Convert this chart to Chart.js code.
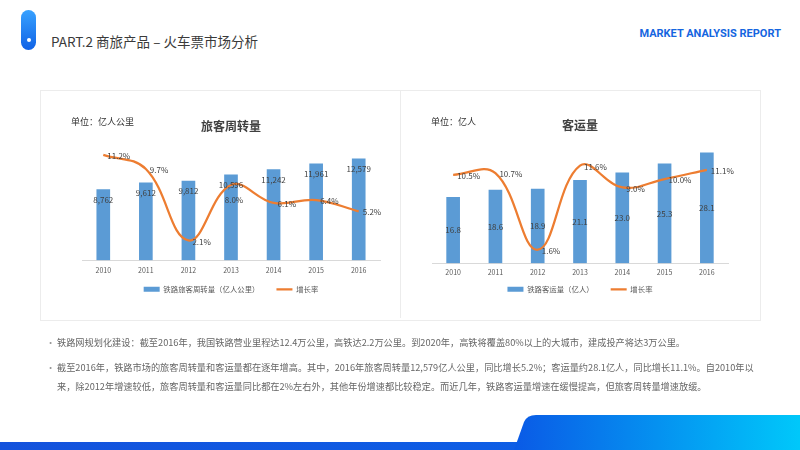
<!DOCTYPE html>
<html lang="zh-CN">
<head>
    <meta charset="UTF-8">
    <title>PART.2 商旅产品 – 火车票市场分析</title>
    <script src="https://cdn.jsdelivr.net/npm/chart.js"></script>
    <style>
        body {
            margin: 0;
            width: 800px;
            height: 450px;
            overflow: hidden;
            background: #ffffff;
            font-family: 'Noto Sans CJK SC', 'Noto Sans', sans-serif;
            position: relative;
        }
        .pill {
            position: absolute;
            left: 21px;
            top: 10px;
            width: 15px;
            height: 40px;
            border-radius: 8px;
            background: linear-gradient(180deg, #38a2ff, #1062e6);
        }
        .pill::after {
            content: '';
            position: absolute;
            left: 6px;
            top: 28px;
            width: 4px;
            height: 4px;
            border-radius: 50%;
            background: #ffffff;
        }
        .heading {
            position: absolute;
            left: 51px;
            top: 31px;
            font-size: 13.5px;
            line-height: 20px;
            color: #3a3a3a;
        }
        .report {
            position: absolute;
            right: 19px;
            top: 27px;
            font-family: 'Liberation Sans Narrow', 'Roboto', sans-serif;
            font-weight: bold;
            font-size: 11px;
            line-height: 14px;
            color: #1565e0;
        }
        .frame {
            position: absolute;
            left: 40px;
            top: 90px;
            width: 719px;
            height: 229px;
            border: 1px solid #ececec;
        }
        .divider {
            position: absolute;
            left: 400px;
            top: 90px;
            width: 1px;
            height: 228px;
            background: #ececec;
        }
        .panel {
            position: absolute;
            top: 90px;
            width: 360px;
            height: 250px;
        }
        .unit {
            position: absolute;
            top: 115px;
            font-size: 9px;
            line-height: 13px;
            color: #333333;
        }
        .notes {
            position: absolute;
            left: 46px;
            top: 333px;
            font-size: 9.2px;
            color: #666666;
        }
        .notes p {
            margin: 0 0 6px 0;
            padding-left: 11px;
            position: relative;
            line-height: 19px;
            white-space: nowrap;
        }
        .notes p::before {
            content: '•';
            position: absolute;
            left: 0;
            color: #999999;
        }
        .strip {
            position: absolute;
            left: 0;
            top: 442px;
            width: 800px;
            height: 8px;
            background: linear-gradient(90deg, #1452dc, #0a64ea);
        }
        .wave {
            position: absolute;
            left: 0;
            top: 0;
        }
    </style>
</head>
<body>
    <div class="pill"></div>
    <div class="heading">PART.2 商旅产品 – 火车票市场分析</div>
    <div class="report">MARKET ANALYSIS REPORT</div>

    <div class="frame"></div>
    <div class="divider"></div>
    <div class="panel" style="left:40px"><canvas id="turnoverChart"></canvas></div>
    <div class="panel" style="left:400px"><canvas id="volumeChart"></canvas></div>
    <div class="unit" style="left:71px">单位：亿人公里</div>
    <div class="unit" style="left:431px">单位：亿人</div>

    <div class="notes">
        <p>铁路网规划化建设：截至2016年，我国铁路营业里程达12.4万公里，高铁达2.2万公里。到2020年，高铁将覆盖80%以上的大城市，建成投产将达3万公里。</p>
        <p>截至2016年，铁路市场的旅客周转量和客运量都在逐年增高。其中，2016年旅客周转量12,579亿人公里，同比增长5.2%；客运量约28.1亿人，同比增长11.1%。自2010年以<br>来，除2012年增速较低，旅客周转量和客运量同比都在2%左右外，其他年份增速都比较稳定。而近几年，铁路客运量增速在缓慢提高，但旅客周转量增速放缓。</p>
    </div>

    <div class="strip"></div>
    <svg class="wave" width="800" height="450">
        <defs>
            <linearGradient id="waveFill" x1="0" x2="1" y1="0" y2="0">
                <stop offset="0" stop-color="#0a5ae6"/>
                <stop offset="1" stop-color="#00c8fa"/>
            </linearGradient>
        </defs>
        <path d="M514 450 L524 422 Q527 415 536 415 L800 415 L800 450 Z" fill="url(#waveFill)"/>
    </svg>

    <script>
        const years = ['2010', '2011', '2012', '2013', '2014', '2015', '2016'];

        // 旅客周转量（亿人公里）与增长率
        const turnover = [8762, 9612, 9812, 10596, 11242, 11961, 12579];
        const turnoverGrowth = [11.2, 9.7, 2.1, 8.0, 6.1, 6.4, 5.2];

        // 客运量（亿人）与增长率
        const volume = [16.8, 18.6, 18.9, 21.1, 23.0, 25.3, 28.1];
        const volumeGrowth = [10.5, 10.7, 1.6, 11.6, 9.0, 10.0, 11.1];

        const blue = '#5b9bd5';
        const orange = '#ed7d31';
        const textGray = '#595959';
        const fontFamily = "'Noto Sans CJK SC', 'Noto Sans', sans-serif";

        // draws the value labels next to the bars and the line points
        const valueLabels = {
            id: 'valueLabels',
            afterDatasetsDraw(chart, args, opts) {
                const ctx = chart.ctx;
                ctx.save();
                ctx.font = '8px ' + fontFamily;
                ctx.fillStyle = '#404040';
                ctx.textBaseline = 'middle';
                chart.data.datasets.forEach((ds, i) => {
                    const meta = chart.getDatasetMeta(i);
                    meta.data.forEach((el, j) => {
                        const v = ds.data[j];
                        if (ds.type === 'bar') {
                            const text = opts.barFormat(v);
                            ctx.textAlign = 'center';
                            const y = opts.barPos === 'center' ? (el.y + el.base) / 2 : el.y + 10;
                            ctx.fillText(text, el.x, y);
                        } else {
                            const text = v.toFixed(1) + '%';
                            if (opts.below && opts.below.includes(j)) {
                                ctx.textAlign = 'center';
                                ctx.fillText(text, el.x + 3, el.y + 15);
                            } else {
                                ctx.textAlign = 'left';
                                ctx.fillText(text, el.x + 4, el.y + 1);
                            }
                        }
                    });
                });
                ctx.restore();
            }
        };

        // pulls the legend closer to the axis without losing the gap between items
        const legendShift = {
            id: 'legendShift',
            afterLayout(chart, args, opts) {
                if (chart.legend) {
                    chart.legend.top -= opts.dy;
                    chart.legend.bottom -= opts.dy;
                }
            }
        };

        function makeChart(id, cfg) {
            return new Chart(document.getElementById(id), {
                data: {
                    labels: years,
                    datasets: [{
                        type: 'bar',
                        label: cfg.barLabel,
                        data: cfg.bars,
                        backgroundColor: blue,
                        barThickness: 13,
                        yAxisID: 'y',
                        pointStyle: 'rect',
                        order: 1
                    }, {
                        type: 'line',
                        label: '增长率',
                        data: cfg.growth,
                        borderColor: orange,
                        backgroundColor: orange,
                        borderWidth: 2.25,
                        pointRadius: 0,
                        pointStyle: 'line',
                        tension: 0.4,
                        yAxisID: 'y1',
                        order: 0
                    }]
                },
                options: {
                    responsive: true,
                    maintainAspectRatio: false,
                    animation: false,
                    layout: { padding: cfg.padding },
                    scales: {
                        x: {
                            grid: { display: false, drawTicks: false },
                            border: { display: true, color: '#d9d9d9', width: 1 },
                            ticks: { color: textGray, font: { size: 7, family: fontFamily }, padding: cfg.tickPad }
                        },
                        y: { display: false, min: 0, max: cfg.yMax },
                        y1: { display: false, position: 'right', min: 0, max: cfg.y1Max }
                    },
                    plugins: {
                        title: {
                            display: true,
                            text: cfg.title,
                            color: '#404040',
                            font: { size: 12, weight: 'bold', family: fontFamily },
                            padding: cfg.titlePad
                        },
                        legend: {
                            position: 'bottom',
                            labels: {
                                usePointStyle: true,
                                pointStyleWidth: 16,
                                boxHeight: 5,
                                padding: 17,
                                color: textGray,
                                font: { size: 7.4, family: fontFamily },
                                sort: (a, b) => a.datasetIndex - b.datasetIndex
                            }
                        },
                        tooltip: { enabled: false },
                        valueLabels: cfg.labels,
                        legendShift: { dy: cfg.legendDy }
                    }
                },
                plugins: [valueLabels, legendShift]
            });
        }

        makeChart('turnoverChart', {
            title: '旅客周转量',
            barLabel: '铁路旅客周转量（亿人公里）',
            bars: turnover,
            growth: turnoverGrowth,
            yMax: 14000,
            y1Max: 12,
            padding: { left: 42, right: 20, top: 0, bottom: 25 },
            titlePad: { top: 29, bottom: 14 },
            tickPad: 6,
            legendDy: 12,
            labels: {
                barPos: 'end',
                barFormat: v => v.toLocaleString('en-US'),
                below: [3]
            }
        });

        makeChart('volumeChart', {
            title: '客运量',
            barLabel: '铁路客运量（亿人）',
            bars: volume,
            growth: volumeGrowth,
            yMax: 30,
            y1Max: 14,
            padding: { left: 32, right: 32, top: 0, bottom: 24 },
            titlePad: { top: 28, bottom: 13 },
            tickPad: 5,
            legendDy: 13,
            labels: {
                barPos: 'center',
                barFormat: v => v.toFixed(1),
                below: []
            }
        });
    </script>
</body>
</html>
